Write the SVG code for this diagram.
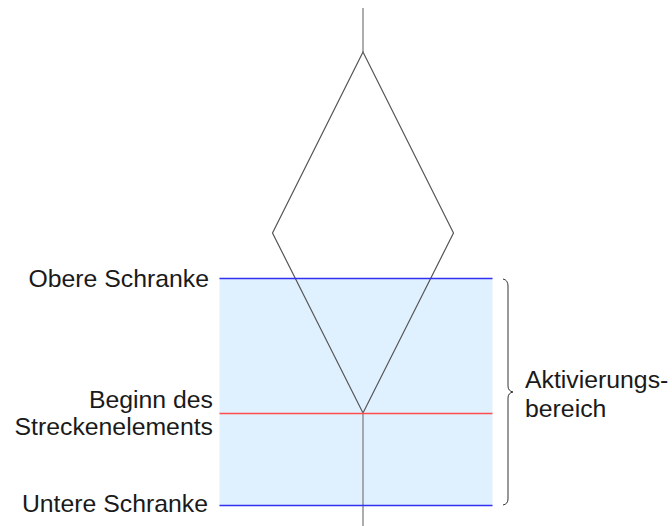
<svg xmlns="http://www.w3.org/2000/svg" width="672" height="526" viewBox="0 0 672 526">
  <style>
    .label { font-family: "Liberation Sans", Arial, sans-serif; font-size: 24.8px; fill: #1a1a1a; }
    .track { stroke: #808080; stroke-width: 1.3; fill: none; }
    .switch { stroke: #555555; stroke-width: 1.2; fill: none; }
    .brace { stroke: #333333; stroke-width: 1; fill: none; }
    .bound { stroke: #3030f0; stroke-width: 1.4; fill: none; }
    .start { stroke: #ff4d4d; stroke-width: 1.4; fill: none; }
  </style>

  <!-- activation range -->
  <g id="bereich">
    <rect x="219.5" y="278" width="273" height="227" fill="#dff0ff"/>
  </g>

  <!-- track and switch -->
  <g id="connectors">
    <line class="track" x1="363" y1="8" x2="363" y2="52"/>
    <polygon class="switch" points="363,52 272.5,233 363,413 453.5,233"/>
    <line class="track" x1="363" y1="413" x2="363" y2="526"/>
  </g>

  <!-- boundary lines -->
  <g id="obere-schranke">
    <path class="bound" d="M219.5,278.5 H492.5"/>
    <text class="label" x="209" y="286.5" text-anchor="end">Obere Schranke</text>
  </g>
  <g id="beginn">
    <path class="start" d="M219.5,413.5 H492.5"/>
    <text class="label" x="213" y="407.5" text-anchor="end">Beginn des</text>
    <text class="label" x="213" y="435" text-anchor="end">Streckenelements</text>
  </g>
  <g id="untere-schranke">
    <path class="bound" d="M219.5,505.5 H492.5"/>
    <text class="label" x="208" y="512" text-anchor="end">Untere Schranke</text>
  </g>

  <!-- brace with label -->
  <g id="aktivierungsbereich">
    <path class="brace" d="M503,279 Q508,280 508,286 L508,386 Q508,391 513,392 Q508,393 508,398 L508,499 Q508,504 503,505"/>
    <text class="label" x="525" y="387.5">Aktivierungs-</text>
    <text class="label" x="525" y="416.5">bereich</text>
  </g>
</svg>
